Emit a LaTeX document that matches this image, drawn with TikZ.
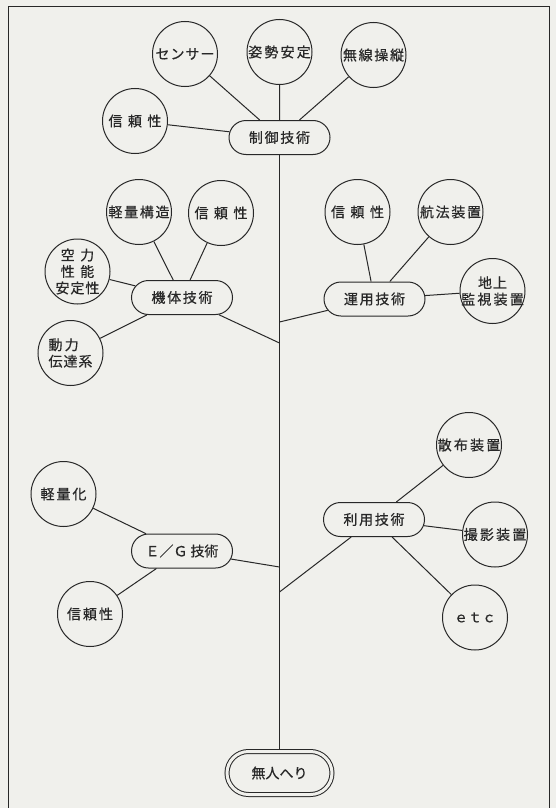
\documentclass[tikz,border=0pt]{standalone}
\usepackage{fontspec}
\setmainfont{Noto Sans CJK JP}[FakeBold=0.6]
\usetikzlibrary{shapes.misc}
\definecolor{bg}{RGB}{240,240,236}
\definecolor{ink}{RGB}{40,40,40}
\newcommand\jpf{\fontsize{14}{16.5}\selectfont}
\newcommand\kA{\kern1.7pt}
\newcommand\kB{\kern5.5pt}
\newcommand\kC{\kern2.2pt}
\newcommand\kD{\kern2pt}
\newcommand\kE{\kern1pt}
\begin{document}
\begin{tikzpicture}[x=1pt,y=-1pt,
  every node/.style={text=ink, font=\jpf},
  bub/.style={circle, draw=ink, line width=1pt, fill=bg, inner sep=0pt, minimum size=65pt},
  tx/.style={label={[align=center,text=ink,font=\jpf,inner sep=0pt]center:#1}},
  txl/.style={label={[align=left,text=ink,font=\jpf,inner sep=0pt]center:#1}},
  tech/.style={rounded rectangle, draw=ink, line width=1pt, fill=bg, inner sep=0pt, minimum width=101pt, minimum height=34pt},
  link/.style={draw=ink, line width=1pt}]
\fill[bg] (0,0) rectangle (556,808);
\useasboundingbox (0,0) rectangle (556,808);
\draw[link] (8,808) -- (8,7) -- (549,7) -- (549,808);

% top group
\node[tech] (seigyo) at (279.5,137.5) {制\kA 御\kA 技\kA 術};
\node[bub, tx={セ\kE ン\kE サ\kE ー}] (sensor) at (185,54) {};
\node[bub, tx={姿\kC 勢\kC 安\kC 定}] (shisei) at (279.5,52) {};
\node[bub, tx={無\kA 線\kA 操\kA 縦}] (musen) at (373.5,55) {};
\node[bub, tx={信\kB 頼\kB 性}] (shin1) at (135,121) {};

% airframe group
\node[tech] (kitai) at (182,297.5) {機\kA 体\kA 技\kA 術};
\node[bub, tx={軽\kA 量\kA 構\kA 造}] (kozo) at (139,212) {};
\node[bub, tx={信\kB 頼\kB 性}] (shin2) at (221,213) {};
\node[bub, tx={空\kB 力\\性\kB 能\\安\kE 定\kE 性}] (kuriki) at (77.5,271.5) {};
\node[bub, txl={動\kC 力\\伝\kE 達\kE 系}] (doryoku) at (70.5,353) {};

% operation group
\node[tech] (unyo) at (374.5,299) {運\kA 用\kA 技\kA 術};
\node[bub, tx={信\kB 頼\kB 性}] (shin3) at (357.5,212) {};
\node[bub, tx={航\kA 法\kA 装\kA 置}] (koho) at (450.5,212) {};
\node[bub, tx={地\kE 上\\監\kC 視\kC 装\kC 置}] (chijo) at (492.5,291) {};

% application group
\node[tech] (riyo) at (374,519.5) {利\kA 用\kA 技\kA 術};
\node[bub, tx={散\kC 布\kC 装\kC 置}] (sanpu) at (469,445) {};
\node[bub, tx={撮\kC 影\kC 装\kC 置}] (satsuei) at (495,534.5) {};
\node[bub, tx={ｅｔｃ}] (etc) at (475,617.5) {};

% engine group
\node[tech] (eg) at (182,551) {Ｅ／Ｇ\kern3pt 技術};
\node[bub, tx={軽\kD 量\kD 化}] (keiryoka) at (63.5,494) {};
\node[bub, tx={信\kD 頼\kD 性}] (shin4) at (90,614) {};

% root
\node[tech, double=bg, double distance=3pt, minimum width=105pt, minimum height=43pt, outer sep=3pt] (mujin) at (279.5,773) {無人へり};

% trunk and junctions
\coordinate (t2) at (279.5,322);
\coordinate (t1) at (279.5,343);
\coordinate (t3) at (279.5,567);
\coordinate (t4) at (279.5,592);
\draw[link] (seigyo.south) -- (mujin.north);

% connectors
\draw[link] (sensor) -- (seigyo);
\draw[link] (shisei) -- (seigyo);
\draw[link] (musen) -- (seigyo);
\draw[link] (shin1) -- (seigyo);

\draw[link] (kozo) -- (kitai);
\draw[link] (shin2) -- (kitai);
\draw[link] (kuriki) -- (kitai);
\draw[link] (doryoku) -- (kitai);
\draw[link] (kitai) -- (t1);

\draw[link] (shin3) -- (unyo);
\draw[link] (koho) -- (unyo);
\draw[link] (chijo) -- (unyo);
\draw[link] (unyo) -- (t2);

\draw[link] (sanpu) -- (riyo);
\draw[link] (satsuei) -- (riyo);
\draw[link] (etc) -- (riyo);
\draw[link] (riyo) -- (t4);

\draw[link] (keiryoka) -- (eg);
\draw[link] (shin4) -- (eg);
\draw[link] (eg) -- (t3);
\end{tikzpicture}
\end{document}
